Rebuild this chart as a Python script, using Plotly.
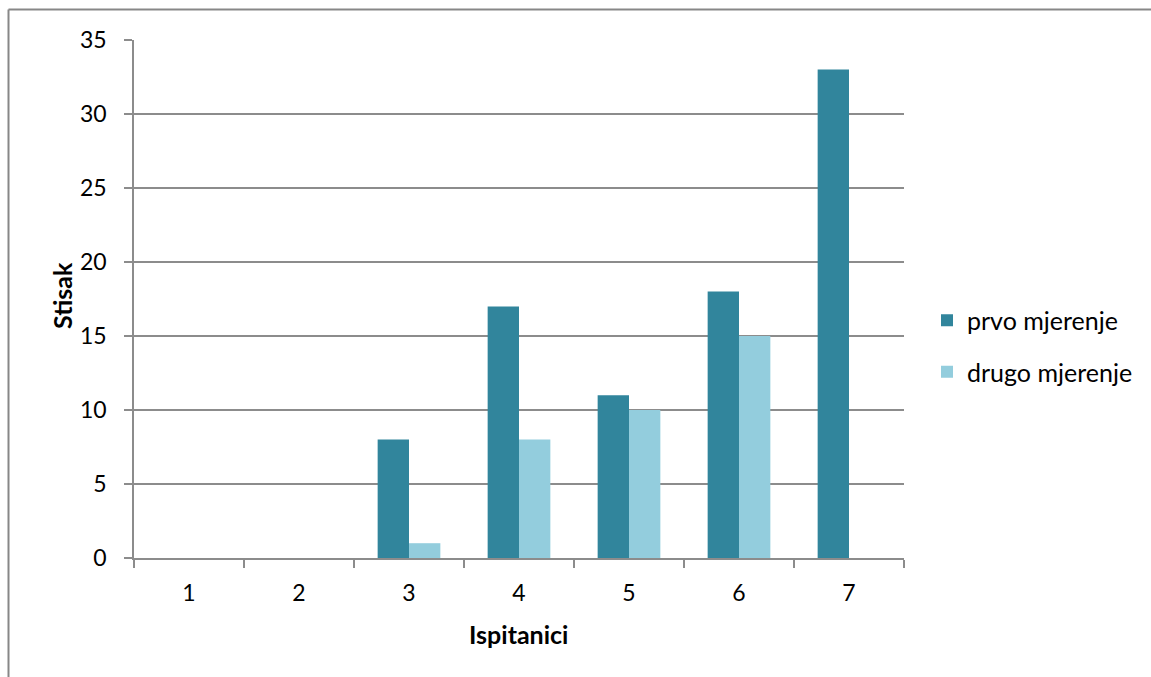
import plotly.graph_objects as go

categories = ["1", "2", "3", "4", "5", "6", "7"]
prvo = [0, 0, 8, 17, 11, 18, 33]
drugo = [0, 0, 1, 8, 10, 15, 0]
y_ticks = [0, 5, 10, 15, 20, 25, 30, 35]

W, H = 1151, 677
L, R, T, B = 134, 904, 40, 558
pw, ph = R - L, B - T

def px(x):
    return (x - L) / pw

def py(y):
    return (B - y) / ph

font = "Lato, 'Open Sans', sans-serif"
grid = "#8c8c8c"

fig = go.Figure()
fig.add_trace(go.Bar(x=categories, y=prvo, name="prvo mjerenje",
                     marker=dict(color="#31859C", line=dict(width=0)),
                     legendgroup="a"))
fig.add_trace(go.Bar(x=categories, y=drugo, name="drugo mjerenje",
                     marker=dict(color="#93CDDD", line=dict(width=0)),
                     legendgroup="b"))

fig.update_layout(
    width=W, height=H,
    margin=dict(l=L, r=W - R, t=T, b=H - B),
    paper_bgcolor="white", plot_bgcolor="white",
    barmode="group", bargap=0.43, bargroupgap=0,
    font=dict(family=font, size=23, color="#000000"),
    showlegend=True,
    legend=dict(x=px(927), y=py(346), xanchor="left", yanchor="middle",
                traceorder="grouped", tracegroupgap=16,
                font=dict(size=25), itemwidth=30),
    xaxis=dict(type="category", showline=True, linecolor=grid, linewidth=1.5,
               ticks="outside", tickson="boundaries", ticklen=8, tickcolor=grid,
               tickwidth=1.5, showgrid=False, ticklabelstandoff=14,
               tickfont=dict(size=23)),
    yaxis=dict(range=[0, 35], tickvals=y_ticks, showline=True, linecolor=grid,
               linewidth=1.5, ticks="outside", ticklen=8, tickcolor=grid, tickwidth=1.5,
               showgrid=True, gridcolor=grid, gridwidth=1.5, zeroline=False,
               ticklabelstandoff=13, tickfont=dict(size=23)),
    annotations=[
        dict(text="<b>Ispitanici</b>", x=px(518), y=py(634), xref="paper", yref="paper",
             showarrow=False, font=dict(size=25), xanchor="center", yanchor="middle"),
        dict(text="<b>Stisak</b>", x=px(62), y=py(296), xref="paper", yref="paper",
             showarrow=False, font=dict(size=25), textangle=-90,
             xanchor="center", yanchor="middle"),
    ],
    shapes=[
        dict(type="line", xref="paper", yref="paper", x0=px(8.5), x1=px(1160),
             y0=py(9.5), y1=py(9.5), line=dict(color="#878787", width=2)),
        dict(type="line", xref="paper", yref="paper", x0=px(8.5), x1=px(8.5),
             y0=py(9.5), y1=py(690), line=dict(color="#878787", width=2)),
    ],
)

fig.write_html("out.html", config={"displayModeBar": False},
               post_script="document.body.style.margin='0';")
